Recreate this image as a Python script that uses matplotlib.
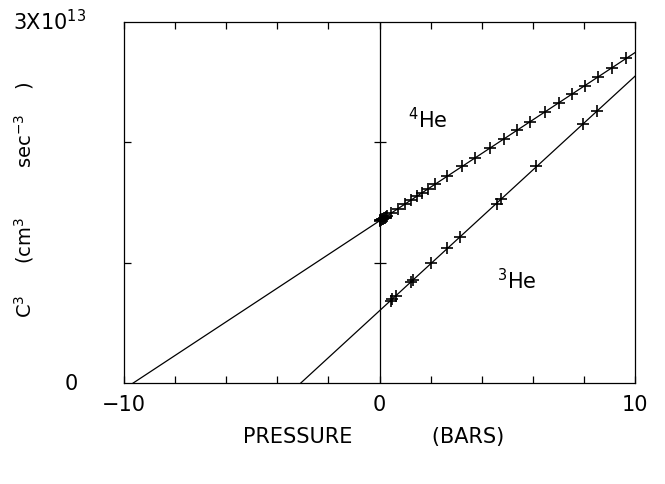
import numpy as np
import matplotlib
matplotlib.use('Agg')
import matplotlib.pyplot as plt
from matplotlib.transforms import blended_transform_factory

# C^3 in units of 1e13 cm^3 sec^-3, pressure in bars
he4_p = [0.0, 0.03, 0.06, 0.09, 0.12, 0.16, 0.2, 0.25, 0.3, 0.46, 0.72, 1.0, 1.24,
         1.46, 1.67, 1.9, 2.16, 2.65, 3.24, 3.75, 4.31, 4.86, 5.39, 5.88, 6.47,
         7.03, 7.52, 8.04, 8.54, 9.11, 9.63]
he4_c3 = [1.35, 1.354, 1.358, 1.362, 1.365, 1.37, 1.375, 1.38, 1.39, 1.41, 1.45,
          1.49, 1.52, 1.55, 1.58, 1.61, 1.65, 1.72, 1.80, 1.87, 1.95, 2.03, 2.10,
          2.17, 2.25, 2.33, 2.40, 2.47, 2.54, 2.62, 2.70]

he3_p = [0.43, 0.5, 0.63, 1.22, 1.31, 2.03, 2.66, 3.14, 4.58, 4.77, 6.14, 7.97, 8.50]
he3_c3 = [0.68, 0.70, 0.72, 0.84, 0.86, 1.00, 1.12, 1.21, 1.49, 1.53, 1.80, 2.15, 2.26]

x_range = [-10, 10]

fig = plt.figure(figsize=(6.65, 4.85), dpi=100)
ax = fig.add_axes([0.1865, 0.2082, 0.7684, 0.7444])

for p, c in [(he4_p, he4_c3), (he3_p, he3_c3)]:
    a, b = np.polyfit(p, c, 1)
    xs = np.array(x_range)
    ax.plot(xs, a * xs + b, color='black', lw=0.9)
    ax.plot(p, c, ls='none', marker='+', ms=8, mew=1.2, color='black')

# vertical line at zero pressure with crossing ticks
ax.axvline(0, color='black', lw=0.9)
ax.plot([0, 0], [1, 2], ls='none', marker='_', ms=9, mew=0.9, color='black')

ax.set_xlim(x_range)
ax.set_ylim(0, 3)

ax.set_xticks(np.arange(-10, 11, 2))
ax.set_xticklabels(['\u221210', '', '', '', '', '0', '', '', '', '', '10'])
ax.set_yticks([1, 2])
ax.set_yticklabels(['', ''])
ax.tick_params(axis='x', direction='in', length=5, width=0.9, top=True,
               labelsize=15, pad=8)
ax.tick_params(axis='y', direction='in', length=5, width=0.9)
for s in ax.spines.values():
    s.set_linewidth(0.9)

tr = blended_transform_factory(fig.transFigure, ax.transData)
fig.text(78 / 665, 0, '0', transform=tr, fontsize=15, ha='right', va='center')
fig.text(13 / 665, 3.01, '3X10$^{13}$', transform=tr, fontsize=15, ha='left', va='center')

ax.text(1.1, 2.2, '$^{4}$He', fontsize=15, ha='left', va='center')
ax.text(4.6, 0.86, '$^{3}$He', fontsize=15, ha='left', va='center')

fig.text(24 / 665, 1 - 200 / 485,
         'C$^{3}$     (cm$^{3}$        sec$^{-3}$    )', fontsize=14,
         rotation=90, ha='center', va='center')
fig.text(374 / 665, 1 - 437 / 485, 'PRESSURE            (BARS)', fontsize=15,
         ha='center', va='center')

fig.savefig('out.png', dpi=100)
